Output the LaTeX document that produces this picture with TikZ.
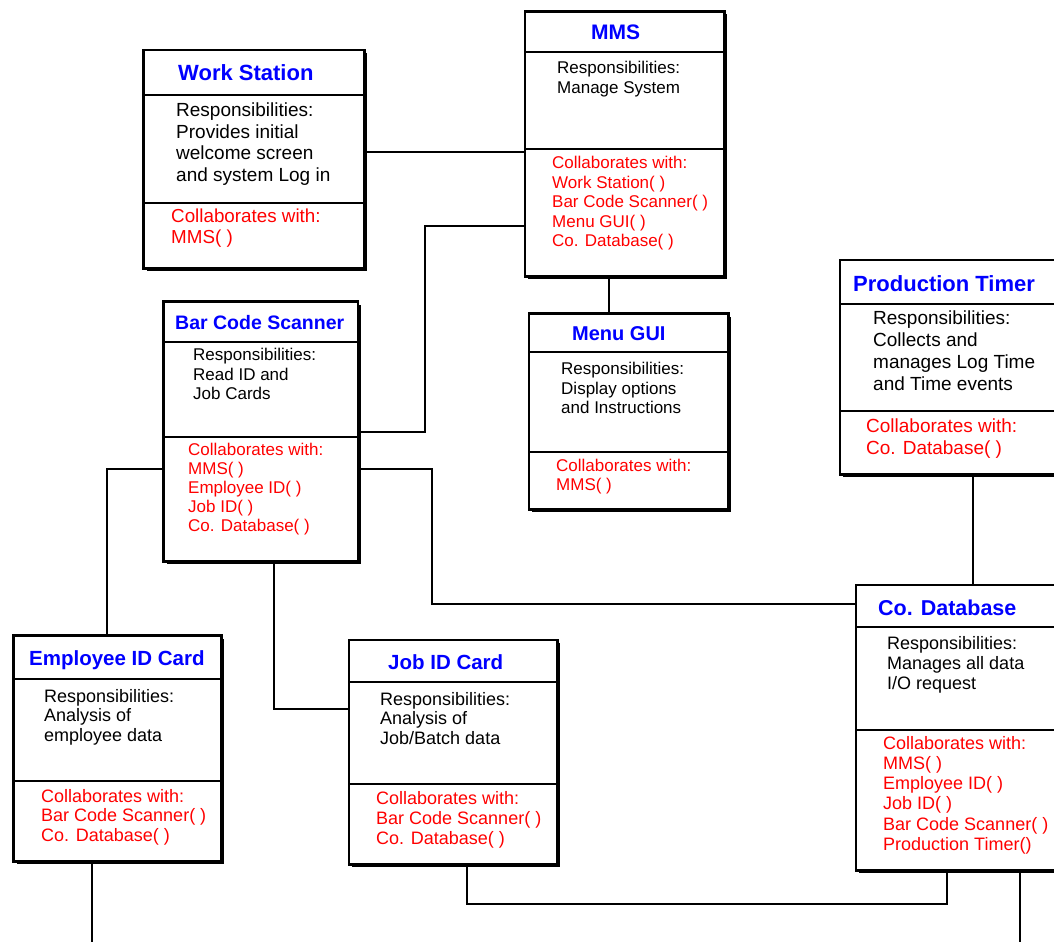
\documentclass[tikz,border=0pt]{standalone}
\usepackage{fontspec}
\setmainfont{Liberation Sans}
\usetikzlibrary{shadows}
\definecolor{titleblue}{RGB}{0,0,255}
\definecolor{collabred}{RGB}{255,0,0}

\begin{document}
\begin{tikzpicture}[x=1pt,y=-1pt,
  card/.style={rectangle, draw=black, fill=white, line width=2.6pt,
    inner sep=0pt, outer sep=0pt, anchor=north west,
    drop shadow={shadow xshift=3pt, shadow yshift=-3pt, opacity=1, fill=black}},
  divider/.style={line width=1.2pt},
  link/.style={line width=1.3pt},
  title/.style={inner sep=0pt, anchor=base west, text=titleblue, font=\bfseries\fontsize{#1}{#1}\selectfont},
  resp/.style={inner sep=0pt, anchor=north west, align=left, text=black},
  collab/.style={inner sep=0pt, anchor=north west, align=left, text=collabred}
]
\useasboundingbox (0,0) rectangle (1054,942);
\clip (0,0) rectangle (1054,942);

% ---------- cards ----------
\node[card, minimum width=220.8pt, minimum height=218.3pt] (ws)  at (143.5,50) {};
\node[card, minimum width=199.3pt, minimum height=264.8pt] (mms) at (525,11.5) {};
\node[card, minimum width=230pt,   minimum height=214.3pt] (pt)  at (840,260) {};
\node[card, minimum width=194.5pt, minimum height=259.8pt] (bcs) at (163.5,301.5) {};
\node[card, minimum width=199.3pt, minimum height=195.8pt] (gui) at (529,313.5) {};
\node[card, minimum width=207.8pt, minimum height=225.8pt] (emp) at (13.5,635.5) {};
\node[card, minimum width=208.3pt, minimum height=224.3pt] (job) at (349,640) {};
\node[card, minimum width=214pt,   minimum height=285.3pt] (db)  at (856,585) {};

% ---------- compartment dividers ----------
\draw[divider] (ws.west |- 0,95)   -- (ws.east |- 0,95);
\draw[divider] (ws.west |- 0,203)  -- (ws.east |- 0,203);
\draw[divider] (mms.west |- 0,52)  -- (mms.east |- 0,52);
\draw[divider] (mms.west |- 0,149) -- (mms.east |- 0,149);
\draw[divider] (pt.west |- 0,304)  -- (pt.east |- 0,304);
\draw[divider] (pt.west |- 0,411)  -- (pt.east |- 0,411);
\draw[divider] (bcs.west |- 0,342) -- (bcs.east |- 0,342);
\draw[divider] (bcs.west |- 0,437) -- (bcs.east |- 0,437);
\draw[divider] (gui.west |- 0,352) -- (gui.east |- 0,352);
\draw[divider] (gui.west |- 0,452) -- (gui.east |- 0,452);
\draw[divider] (emp.west |- 0,679) -- (emp.east |- 0,679);
\draw[divider] (emp.west |- 0,781) -- (emp.east |- 0,781);
\draw[divider] (job.west |- 0,682) -- (job.east |- 0,682);
\draw[divider] (job.west |- 0,784) -- (job.east |- 0,784);
\draw[divider] (db.west |- 0,627)  -- (db.east |- 0,627);
\draw[divider] (db.west |- 0,730)  -- (db.east |- 0,730);

% ---------- Work Station ----------
\node[title=22] (wsT) at (178,80) {Work Station};
\node[resp, font=\fontsize{19}{21.5}\selectfont] (wsR) at (176,103)
  {Responsibilities:\\Provides initial\\welcome screen\\and system Log in};
\node[collab, font=\fontsize{18.8}{21}\selectfont] (wsC) at (171,209)
  {Collaborates with:\\MMS( )};

% ---------- MMS ----------
\node[title=21] (mmsT) at (591,39.5) {MMS};
\node[resp, font=\fontsize{17}{19.5}\selectfont] (mmsR) at (557,61)
  {Responsibilities:\\Manage System};
\node[collab, font=\fontsize{17}{19.5}\selectfont] (mmsC) at (552,156)
  {Collaborates with:\\Work Station( )\\Bar Code Scanner( )\\Menu GUI( )\\Co. Database( )};

% ---------- Production Timer ----------
\node[title=22] (ptT) at (853,291) {Production Timer};
\node[resp, font=\fontsize{19}{22}\selectfont] (ptR) at (873,311)
  {Responsibilities:\\Collects and\\manages Log Time\\and Time events};
\node[collab, font=\fontsize{19}{21.5}\selectfont] (ptC) at (866,419)
  {Collaborates with:\\Co. Database( )};

% ---------- Bar Code Scanner ----------
\node[title=19.5] (bcsT) at (175,329) {Bar Code Scanner};
\node[resp, font=\fontsize{17}{19.5}\selectfont] (bcsR) at (193,348)
  {Responsibilities:\\Read ID and\\Job Cards};
\node[collab, font=\fontsize{17}{19}\selectfont] (bcsC) at (188,443)
  {Collaborates with:\\MMS( )\\Employee ID( )\\Job ID( )\\Co. Database( )};

% ---------- Menu GUI ----------
\node[title=20] (guiT) at (572,340) {Menu GUI};
\node[resp, font=\fontsize{17}{19.5}\selectfont] (guiR) at (561,362)
  {Responsibilities:\\Display options\\and Instructions};
\node[collab, font=\fontsize{17}{18.5}\selectfont] (guiC) at (556,459)
  {Collaborates with:\\MMS( )};

% ---------- Employee ID Card ----------
\node[title=20.5] (empT) at (29,665.5) {Employee ID Card};
\node[resp, font=\fontsize{18}{19.5}\selectfont] (empR) at (44,689)
  {Responsibilities:\\Analysis of\\employee data};
\node[collab, font=\fontsize{18}{19.5}\selectfont] (empC) at (41,789)
  {Collaborates with:\\Bar Code Scanner( )\\Co. Database( )};

% ---------- Job ID Card ----------
\node[title=20.5] (jobT) at (388,669.5) {Job ID Card};
\node[resp, font=\fontsize{18}{19.5}\selectfont] (jobR) at (380,692)
  {Responsibilities:\\Analysis of\\Job/Batch data};
\node[collab, font=\fontsize{18}{20}\selectfont] (jobC) at (376,791)
  {Collaborates with:\\Bar Code Scanner( )\\Co. Database( )};

% ---------- Co. Database ----------
\node[title=21.5] (dbT) at (878,615.5) {Co. Database};
\node[resp, font=\fontsize{18}{20}\selectfont] (dbR) at (887,636)
  {Responsibilities:\\Manages all data\\I/O request};
\node[collab, font=\fontsize{18}{20.2}\selectfont] (dbC) at (883,736)
  {Collaborates with:\\MMS( )\\Employee ID( )\\Job ID( )\\Bar Code Scanner( )\\Production Timer()};

% ---------- connectors ----------
\coordinate (empEnd) at (92,942);
\coordinate (dbEnd)  at (1020,942);

\draw[link] (ws.east |- 0,152) -- (mms.west |- 0,152);
\draw[link] (bcs.east |- 0,432) -| (425,226) -- (mms.west |- 0,226);
\draw[link] (mms.south -| 609,0) -- (gui.north -| 609,0);
\draw[link] (bcs.east |- 0,469) -| (432,604) -- (db.west |- 0,604);
\draw[link] (emp.north -| 107,0) |- (bcs.west |- 0,469);
\draw[link] (bcs.south -| 274,0) |- (job.west |- 0,709);
\draw[link] (pt.south -| 973,0) -- (db.north -| 973,0);
\draw[link] (job.south -| 467,0) |- (947,904) -- (db.south -| 947,0);
\draw[link] (emp.south -| 92,0) -- (empEnd);
\draw[link] (db.south -| 1020,0) -- (dbEnd);
\end{tikzpicture}
\end{document}
